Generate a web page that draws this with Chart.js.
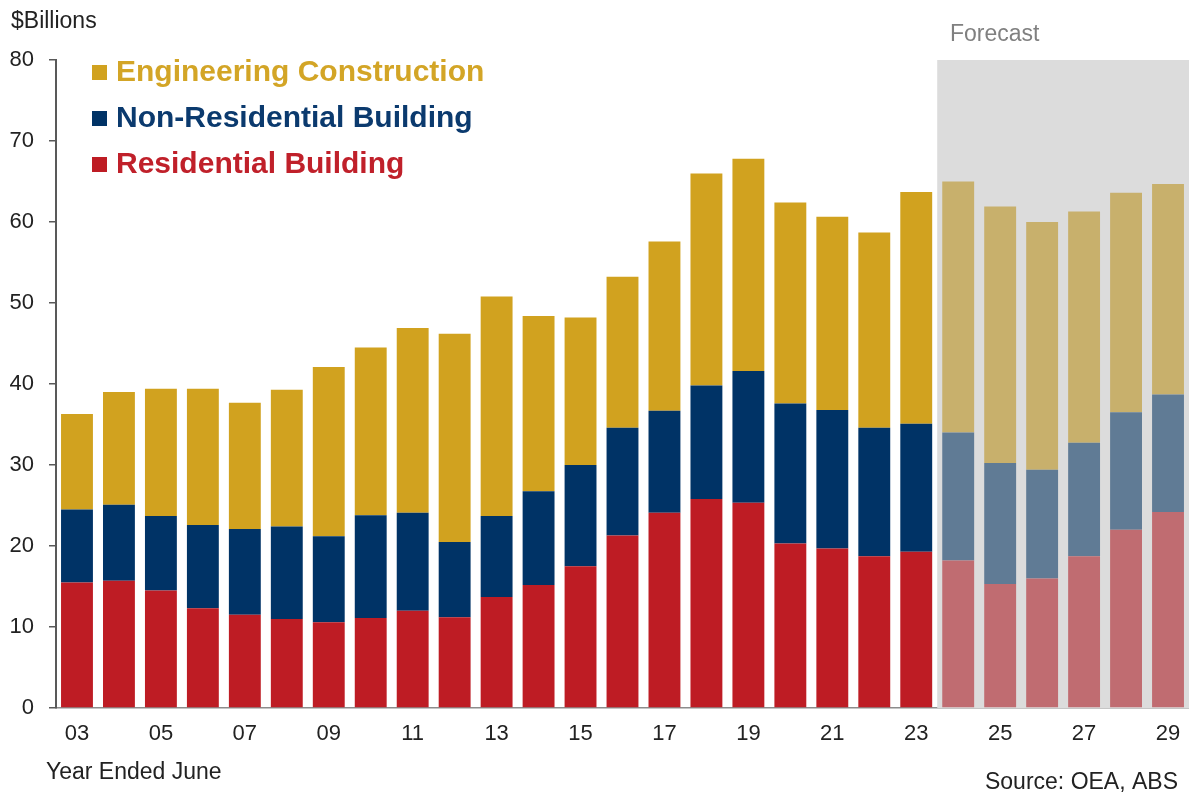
<!DOCTYPE html>
<html>
<head>
<meta charset="utf-8">
<script src="https://cdn.jsdelivr.net/npm/chart.js@4"></script>
<style>
  html, body { margin: 0; padding: 0; background: #fff; }
  #wrap { width: 1189px; height: 794px; position: relative; }
</style>
</head>
<body>
<div id="wrap"><canvas id="chart"></canvas></div>
<script>
"use strict";

/* ── Data ───────────────────────────────────────────────── */
const years = ["03","04","05","06","07","08","09","10","11","12","13","14","15",
  "16","17","18","19","20","21","22","23","24","25","26","27","28","29"];

const residential = [15.5, 15.7, 14.5, 12.3, 11.5, 11.0, 10.6, 11.1, 12.0, 11.2, 13.7, 15.2, 17.5,
  21.3, 24.1, 25.8, 25.35, 20.3, 19.7, 18.75, 19.3, 18.2, 15.3, 16.0, 18.75, 22.0, 24.2];

const nonResidential = [9.0, 9.4, 9.2, 10.3, 10.6, 11.4, 10.6, 12.7, 12.1, 9.3, 10.0, 11.55, 12.5,
  13.3, 12.6, 14.0, 16.25, 17.3, 17.1, 15.85, 15.8, 15.8, 14.95, 13.4, 14.0, 14.5, 14.5];

const engineering = [11.8, 13.9, 15.7, 16.8, 15.6, 16.9, 20.9, 20.7, 22.8, 25.7, 27.1, 21.65, 18.2,
  18.65, 20.9, 26.2, 26.2, 24.8, 23.85, 24.1, 28.6, 31.0, 31.65, 30.6, 28.55, 27.1, 26.0];

const yTicks = [0, 10, 20, 30, 40, 50, 60, 70, 80];
const firstForecast = "24";

/* ── Styles ─────────────────────────────────────────────── */
const FONT = '"Liberation Sans", Arial, sans-serif';
const forecastStart = years.indexOf(firstForecast);

const colors = {
  eng: { hist: "#D1A21F", fc: "#C8B06C", text: "#D3A526" },
  non: { hist: "#003366", fc: "#607B95", text: "#0B3A6E" },
  res: { hist: "#BE1C24", fc: "#C06C71", text: "#C0202A" },
};
const barColors = (c) => years.map((_, i) => (i >= forecastStart ? c.fc : c.hist));

/* ── Plugins ────────────────────────────────────────────── */
const forecastShade = {
  id: "forecastShade",
  beforeDatasetsDraw(chart) {
    const { ctx, chartArea, scales } = chart;
    const x0 = scales.x.getPixelForValue(forecastStart - 0.5);
    ctx.save();
    ctx.fillStyle = "#DCDCDC";
    ctx.fillRect(x0, chartArea.top, chartArea.right - x0, chartArea.bottom - chartArea.top);
    ctx.restore();
  },
};

const annotations = {
  id: "annotations",
  afterDraw(chart) {
    const { ctx } = chart;
    ctx.save();
    ctx.textBaseline = "middle";

    // legend, top-down in reverse stacking order
    const items = chart.data.datasets.slice().reverse();
    items.forEach((ds, i) => {
      const y = 72 + i * 46;
      ctx.fillStyle = ds.legendColor;
      ctx.fillRect(92, y - 7, 15, 15);
      ctx.font = "bold 30px " + FONT;
      ctx.fillStyle = ds.legendText;
      ctx.textAlign = "left";
      ctx.fillText(ds.label, 116, y + 1);
    });

    ctx.font = "23px " + FONT;
    ctx.fillStyle = "#222";
    ctx.fillText("$Billions", 11, 22);
    ctx.fillText("Year Ended June", 46, 773);

    ctx.fillStyle = "#808080";
    ctx.fillText("Forecast", 950, 35);

    ctx.fillStyle = "#222";
    ctx.textAlign = "right";
    ctx.fillText("Source: OEA, ABS", 1178, 783);
    ctx.restore();
  },
};

/* ── Chart ──────────────────────────────────────────────── */
const ctx = document.getElementById("chart").getContext("2d");
new Chart(ctx, {
  type: "bar",
  data: {
    labels: years,
    datasets: [
      {
        label: "Residential Building",
        data: residential,
        backgroundColor: barColors(colors.res),
        legendColor: colors.res.hist,
        legendText: colors.res.text,
      },
      {
        label: "Non-Residential Building",
        data: nonResidential,
        backgroundColor: barColors(colors.non),
        legendColor: colors.non.hist,
        legendText: colors.non.text,
      },
      {
        label: "Engineering Construction",
        data: engineering,
        backgroundColor: barColors(colors.eng),
        legendColor: colors.eng.hist,
        legendText: colors.eng.text,
      },
    ],
  },
  options: {
    responsive: true,
    maintainAspectRatio: false,
    animation: false,
    layout: { padding: { top: 60, right: 0, left: 0, bottom: 0 } },
    datasets: {
      bar: { barPercentage: 0.76, categoryPercentage: 1, borderWidth: 0 },
    },
    plugins: {
      legend: { display: false },
      tooltip: { enabled: false },
    },
    scales: {
      x: {
        stacked: true,
        grid: { display: false, drawTicks: false },
        border: { display: true, color: "#8C8C8C", width: 1.5 },
        ticks: {
          autoSkip: false,
          maxRotation: 0,
          padding: 13,
          color: "#222",
          font: { family: FONT, size: 22 },
          callback: (v, i) => (i % 2 === 0 ? years[i] : ""),
        },
        afterFit: (s) => {
          s.height = 86;
          s.paddingLeft = 0;
          s.paddingRight = 0;
        },
      },
      y: {
        stacked: true,
        min: 0,
        max: 80,
        afterBuildTicks: (s) => { s.ticks = yTicks.map((v) => ({ value: v })); },
        grid: { drawOnChartArea: false, drawTicks: true, tickLength: 7, color: "#595959", lineWidth: 1.5 },
        border: { display: true, color: "#595959", width: 2 },
        ticks: {
          padding: 15,
          color: "#222",
          font: { family: FONT, size: 22 },
        },
        afterFit: (s) => { s.width = 56; },
      },
    },
  },
  plugins: [forecastShade, annotations],
});
</script>
</body>
</html>
